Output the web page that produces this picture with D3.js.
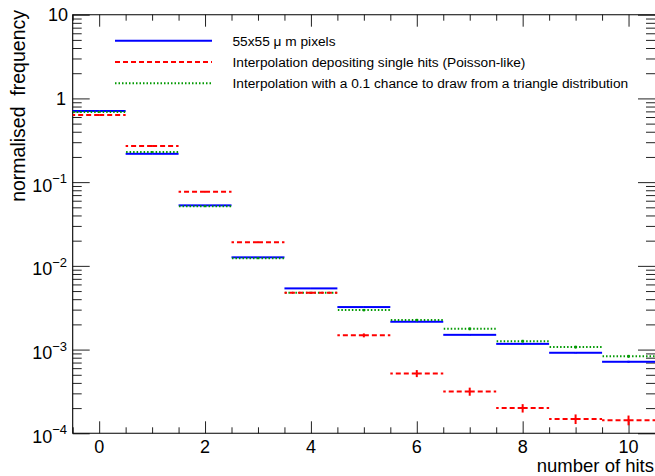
<!DOCTYPE html>
<html>
<head>
<meta charset="utf-8">
<script src="https://cdn.jsdelivr.net/npm/d3@7.9.0/dist/d3.min.js"></script>
<style>
  body { margin: 0; background: #fff; }
  svg { display: block; font-family: "Liberation Sans", Arial, Helvetica, sans-serif; }
</style>
</head>
<body>
<svg id="chart" width="655" height="476"></svg>
<script>
// bin centres (number of hits)
const bins = [0, 1, 2, 3, 4, 5, 6, 7, 8, 9, 10];

// 55x55 um pixels
const pixelValues = [0.707, 0.218, 0.0528, 0.01264, 0.00538, 0.00322, 0.00215, 0.0015, 0.00117, 0.000916, 0.000715];
const pixelErrors = [0.002, 0.001, 0.0003, 0.0001, 0.00005, 0.00004, 0.00003, 0.00003, 0.00002, 0.00002, 0.00002];

// Interpolation depositing single hits (Poisson-like)
const poissonValues = [0.633, 0.27, 0.0768, 0.0191, 0.00477, 0.00148, 0.000519, 0.000316, 0.0002, 0.000148, 0.000143];
const poissonErrors = [0.005, 0.002, 0.001, 0.0003, 0.0001, 0.00008, 0.00005, 0.000035, 0.000023, 0.00002, 0.00002];

// Interpolation with a 0.1 chance to draw from a triangle distribution
const triangleValues = [0.69, 0.229, 0.0514, 0.0123, 0.00477, 0.00296, 0.00225, 0.00177, 0.00126, 0.00107, 0.00083];
const triangleErrors = [0.002, 0.001, 0.0005, 0.0002, 0.0001, 0.0001, 0.00008, 0.00007, 0.00005, 0.00005, 0.00004];

const xMajorTicks = [0, 2, 4, 6, 8, 10];
const yDecades = [-4, -3, -2, -1, 0, 1];

const legendLabels = [
  "55x55 \u03bc m pixels",
  "Interpolation depositing single hits (Poisson-like)",
  "Interpolation with a 0.1 chance to draw from a triangle distribution",
];

const series = [
  { values: pixelValues, errors: pixelErrors, color: "#0000ff", dash: null },
  { values: triangleValues, errors: triangleErrors, color: "#009900", dash: "1.5,2" },
  { values: poissonValues, errors: poissonErrors, color: "#ff0000", dash: "5,3" },
];
const legendSeries = [series[0], series[2], series[1]];

const frameL = 72.7, frameR = 655, frameT = 14.7, frameB = 433.3;
const svg = d3.select("#chart");

const x = d3.scaleLinear().domain([-0.5, 10.5]).range([frameL, frameR]);
const y = d3.scaleLog().domain([1e-4, 10]).range([frameB, frameT]);

// ticks
const xMinor = d3.range(-0.5, 10.51, 0.5).filter((v) => !xMajorTicks.includes(v));
const yMinor = [];
yDecades.slice(0, -1).forEach((p) => {
  for (let k = 2; k <= 9; k++) yMinor.push(k * Math.pow(10, p));
});
const yMajor = yDecades.map((p) => Math.pow(10, p));

function tickAxis(axis, pos, values, size) {
  const g = svg.append("g").attr("transform", pos)
    .call(axis.tickValues(values).tickSize(size).tickFormat(""));
  g.select(".domain").remove();
  g.selectAll("line").attr("stroke", "#222").attr("stroke-width", 1);
  return g;
}

tickAxis(d3.axisBottom(x), `translate(0,${frameB})`, xMajorTicks, -12);
tickAxis(d3.axisBottom(x), `translate(0,${frameB})`, xMinor, -6);
tickAxis(d3.axisTop(x), `translate(0,${frameT})`, xMajorTicks, -12);
tickAxis(d3.axisTop(x), `translate(0,${frameT})`, xMinor, -6);
tickAxis(d3.axisLeft(y), `translate(${frameL},0)`, yMajor, -17);
tickAxis(d3.axisLeft(y), `translate(${frameL},0)`, yMinor, -9);
tickAxis(d3.axisRight(y), `translate(${frameR},0)`, yMajor, -17);
tickAxis(d3.axisRight(y), `translate(${frameR},0)`, yMinor, -9);

// frame
svg.append("path")
  .attr("d", `M${frameR},${frameT}H${frameL}V${frameB}H${frameR}`)
  .attr("fill", "none").attr("stroke", "#000").attr("stroke-width", 1.1);

// x labels
svg.append("g").selectAll("text").data(xMajorTicks).join("text")
  .attr("x", (d) => x(d)).attr("y", 452.5)
  .attr("text-anchor", "middle").attr("font-size", 18)
  .text((d) => d);

// y labels
const yl = svg.append("g").selectAll("text").data(yDecades).join("text")
  .attr("text-anchor", "end").attr("font-size", 18);
yl.each(function (p) {
  const t = d3.select(this);
  const yy = y(Math.pow(10, p));
  if (p === 0) {
    t.attr("x", 66).attr("y", yy + 6.5).text("1");
  } else if (p === 1) {
    t.attr("x", 68).attr("y", yy + 6.5).text("10");
  } else {
    t.attr("x", 67).attr("y", yy + 9.5);
    t.append("tspan").text("10");
    t.append("tspan").attr("font-size", 13).attr("dy", -8.5).text("\u2212" + (-p));
  }
});

// axis titles
svg.append("text")
  .attr("x", 654).attr("y", 472)
  .attr("text-anchor", "end").attr("font-size", 18.5)
  .text("number of hits");
svg.append("text")
  .attr("transform", "translate(25,10) rotate(-90)")
  .attr("text-anchor", "end").attr("font-size", 19.5)
  .attr("xml:space", "preserve")
  .text("normalised  frequency");

// histograms, drawn as error bars from the bin centre outwards
const plot = svg.append("g");
series.forEach((s) => {
  const g = plot.append("g")
    .attr("stroke", s.color).attr("stroke-width", 2).attr("fill", "none")
    .attr("stroke-dasharray", s.dash);
  bins.forEach((b, i) => {
    const cx = x(b), cy = y(s.values[i]);
    g.append("line").attr("x1", cx).attr("x2", x(b - 0.5)).attr("y1", cy).attr("y2", cy);
    g.append("line").attr("x1", cx).attr("x2", x(b + 0.5)).attr("y1", cy).attr("y2", cy);
    g.append("line").attr("x1", cx).attr("x2", cx).attr("y1", cy).attr("y2", y(s.values[i] + s.errors[i]));
    g.append("line").attr("x1", cx).attr("x2", cx).attr("y1", cy).attr("y2", y(s.values[i] - s.errors[i]));
  });
});

// legend
const legendY = [40.7, 62, 83.3];
const lg = svg.append("g");
legendSeries.forEach((s, i) => {
  lg.append("line")
    .attr("x1", 115).attr("x2", 212).attr("y1", legendY[i]).attr("y2", legendY[i])
    .attr("stroke", s.color).attr("stroke-width", 2).attr("stroke-dasharray", s.dash);
  lg.append("text")
    .attr("x", 232.5).attr("y", legendY[i] + 4.8)
    .attr("font-size", 13.7)
    .text(legendLabels[i]);
});
</script>
</body>
</html>
